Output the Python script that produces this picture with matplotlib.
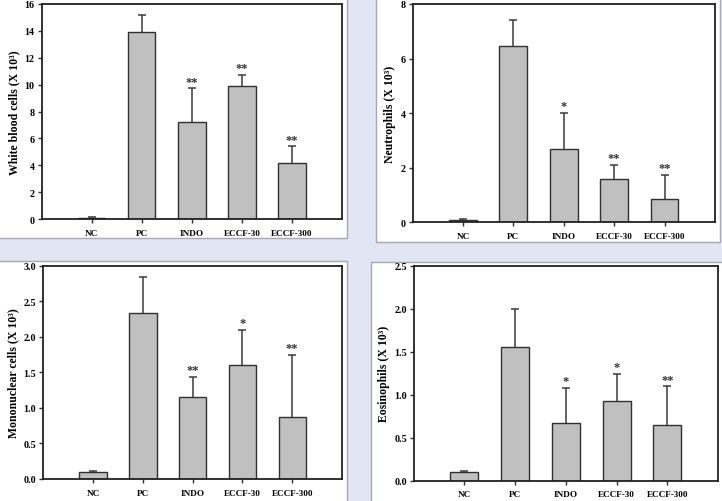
import matplotlib
matplotlib.use("Agg")
import matplotlib.pyplot as plt
from matplotlib.patches import Rectangle
import numpy as np

categories = ["NC", "PC", "INDO", "ECCF-30", "ECCF-300"]

wbc = [0.1, 13.88, 7.2, 9.88, 4.14]
wbc_err = [0.05, 1.32, 2.53, 0.84, 1.27]
wbc_sig = ["", "", "**", "**", "**"]

neut = [0.1, 6.47, 2.69, 1.59, 0.85]
neut_err = [0.03, 0.94, 1.31, 0.52, 0.88]
neut_sig = ["", "", "*", "**", "**"]

mono = [0.098, 2.33, 1.157, 1.60, 0.865]
mono_err = [0.012, 0.51, 0.28, 0.50, 0.88]
mono_sig = ["", "", "**", "*", "**"]

eos = [0.097, 1.56, 0.674, 0.927, 0.65]
eos_err = [0.013, 0.445, 0.41, 0.32, 0.45]
eos_sig = ["", "", "*", "*", "**"]

W, H = 722, 502
fig = plt.figure(figsize=(W / 100, H / 100), dpi=100)
fig.patch.set_facecolor("#e2e5f3")

SERIF = ["Liberation Serif", "DejaVu Serif"]

# white panels (x0, y0, x1, y1) in pixels, y from top
panels = [(-5, -5, 347, 239), (376, -5, 720, 243), (-5, 261.7, 347, 510), (371, 263.3, 730, 510)]
for x0, y0, x1, y1 in panels:
    fig.patches.append(Rectangle((x0 / W, 1 - y1 / H), (x1 - x0) / W, (y1 - y0) / H,
                                 transform=fig.transFigure, facecolor="white",
                                 edgecolor="#a8a8b0", linewidth=1.0, zorder=-10))

axes_px = [(41.5, 5, 342, 220), (412.5, 5, 715, 223.3), (43.3, 266.5, 342, 480), (413.7, 267, 718, 481.7)]

specs = [
    (wbc, wbc_err, wbc_sig, "White blood cells (X 10³)", (0, 16), np.arange(0, 17, 2), "{:.0f}"),
    (neut, neut_err, neut_sig, "Neutrophils (X 10³)", (0, 8), np.arange(0, 9, 2), "{:.0f}"),
    (mono, mono_err, mono_sig, "Mononuclear cells (X 10³)", (0, 3.0), np.arange(0, 3.01, 0.5), "{:.1f}"),
    (eos, eos_err, eos_sig, "Eosinophils (X 10³)", (0, 2.5), np.arange(0, 2.51, 0.5), "{:.1f}"),
]

x = np.arange(len(categories))
for (x0, y0, x1, y1), (vals, errs, sig, ylabel, ylim, yticks, fmt) in zip(axes_px, specs):
    ax = fig.add_axes([x0 / W, 1 - y1 / H, (x1 - x0) / W, (y1 - y0) / H], zorder=5)
    ax.bar(x, vals, width=0.55, color="#c0c0c0", edgecolor="#303030", linewidth=1.0, zorder=2)
    eb = ax.errorbar(x, vals, yerr=[np.zeros(len(vals)), errs], fmt="none", ecolor="#3a3a3a",
                     elinewidth=1.1, capsize=2.8, capthick=1.1, zorder=1)
    eb[1][0].set_visible(False)
    for xi, v, e, s in zip(x, vals, errs, sig):
        if s:
            ax.annotate(s, (xi, v + e), xytext=(0, 0.5), textcoords="offset points",
                        ha="center", va="bottom", fontsize=9, fontweight="bold",
                        color="#333333", family=SERIF)
    ax.set_xlim(-1, 5)
    ax.set_ylim(*ylim)
    ax.set_yticks(yticks)
    ax.set_yticklabels([fmt.format(t) for t in yticks], family=SERIF, fontweight="bold", fontsize=7.2)
    ax.set_xticks(x)
    ax.set_xticklabels(categories, family=SERIF, fontweight="bold", fontsize=6.6)
    ax.tick_params(axis="both", direction="out", length=3, width=1, color="#303030", pad=2)
    ax.tick_params(axis="x", pad=4)
    ax.set_ylabel(ylabel, family=SERIF, fontweight="bold", fontsize=8.5, labelpad=3)
    for sp in ax.spines.values():
        sp.set_linewidth(1.3)
        sp.set_color("#202020")

fig.savefig("out.png", dpi=100, facecolor=fig.get_facecolor())
